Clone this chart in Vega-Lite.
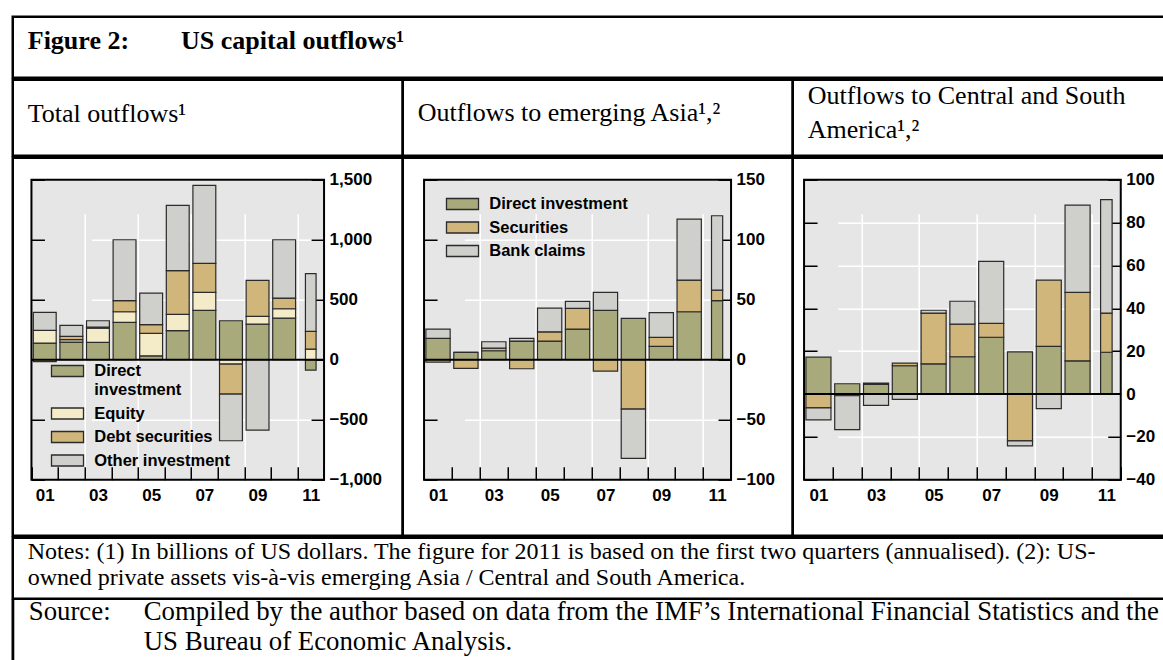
{
  "$schema": "https://vega.github.io/schema/vega-lite/v6.json",
  "padding": {"left": 10.75, "top": 14.75, "right": 0, "bottom": 0},
  "background": "white",
  "config": {
    "font": "Liberation Sans",
    "view": {"stroke": null},
    "title": {"font": "Liberation Serif", "fontWeight": "normal", "color": "black", "anchor": "start", "frame": "group", "baseline": "alphabetic", "fontSize": 26},
    "axis": {"labelFont": "Liberation Sans", "labelFontWeight": "bold", "labelFontSize": 17, "labelColor": "black", "title": null, "zindex": 0},
    "legend": {"title": null, "labelFont": "Liberation Sans", "labelFontWeight": "bold", "labelFontSize": 16.5, "labelColor": "black", "symbolType": "M-1,-1H4.82V1H-1Z", "symbolSize": 121, "symbolStrokeColor": "#2b2b2b", "symbolStrokeWidth": 1.3, "symbolOpacity": 1, "rowPadding": 6.5, "labelOffset": 29, "padding": 0, "orient": "none"}
  },
  "datasets": {
    "total": [
      {"year": "01", "series": "Direct investment", "value": 139}, {"year": "01", "series": "Equity", "value": 105}, {"year": "01", "series": "Debt securities", "value": -15}, {"year": "01", "series": "Other investment", "value": 150},
      {"year": "02", "series": "Direct investment", "value": 147}, {"year": "02", "series": "Equity", "value": 20}, {"year": "02", "series": "Debt securities", "value": 28}, {"year": "02", "series": "Other investment", "value": 92},
      {"year": "03", "series": "Direct investment", "value": 144}, {"year": "03", "series": "Equity", "value": 120}, {"year": "03", "series": "Debt securities", "value": 8}, {"year": "03", "series": "Other investment", "value": 53},
      {"year": "04", "series": "Direct investment", "value": 311}, {"year": "04", "series": "Equity", "value": 89}, {"year": "04", "series": "Debt securities", "value": 92}, {"year": "04", "series": "Other investment", "value": 508},
      {"year": "05", "series": "Direct investment", "value": 33}, {"year": "05", "series": "Equity", "value": 186}, {"year": "05", "series": "Debt securities", "value": 73}, {"year": "05", "series": "Other investment", "value": 264},
      {"year": "06", "series": "Direct investment", "value": 242}, {"year": "06", "series": "Equity", "value": 136}, {"year": "06", "series": "Debt securities", "value": 364}, {"year": "06", "series": "Other investment", "value": 544},
      {"year": "07", "series": "Direct investment", "value": 411}, {"year": "07", "series": "Equity", "value": 150}, {"year": "07", "series": "Debt securities", "value": 242}, {"year": "07", "series": "Other investment", "value": 650},
      {"year": "08", "series": "Direct investment", "value": 325}, {"year": "08", "series": "Equity", "value": -36}, {"year": "08", "series": "Debt securities", "value": -250}, {"year": "08", "series": "Other investment", "value": -389},
      {"year": "09", "series": "Direct investment", "value": 297}, {"year": "09", "series": "Equity", "value": 64}, {"year": "09", "series": "Debt securities", "value": 300}, {"year": "09", "series": "Other investment", "value": -586},
      {"year": "10", "series": "Direct investment", "value": 347}, {"year": "10", "series": "Equity", "value": 78}, {"year": "10", "series": "Debt securities", "value": 89}, {"year": "10", "series": "Other investment", "value": 486},
      {"year": "11", "series": "Direct investment", "value": -86}, {"year": "11", "series": "Equity", "value": 89}, {"year": "11", "series": "Debt securities", "value": 147}, {"year": "11", "series": "Other investment", "value": 481}
    ],
    "asia": [
      {"year": "01", "series": "Direct investment", "value": 17.8}, {"year": "01", "series": "Securities", "value": -2}, {"year": "01", "series": "Bank claims", "value": 7.8},
      {"year": "02", "series": "Direct investment", "value": 6.1}, {"year": "02", "series": "Securities", "value": -7.2}, {"year": "02", "series": "Bank claims", "value": 0},
      {"year": "03", "series": "Direct investment", "value": 7.5}, {"year": "03", "series": "Securities", "value": 2.2}, {"year": "03", "series": "Bank claims", "value": 5.3},
      {"year": "04", "series": "Direct investment", "value": 15.6}, {"year": "04", "series": "Securities", "value": -7.5}, {"year": "04", "series": "Bank claims", "value": 2.2},
      {"year": "05", "series": "Direct investment", "value": 15.6}, {"year": "05", "series": "Securities", "value": 7.7}, {"year": "05", "series": "Bank claims", "value": 19.7},
      {"year": "06", "series": "Direct investment", "value": 25.6}, {"year": "06", "series": "Securities", "value": 17.2}, {"year": "06", "series": "Bank claims", "value": 5.8},
      {"year": "07", "series": "Direct investment", "value": 41.1}, {"year": "07", "series": "Securities", "value": -9.4}, {"year": "07", "series": "Bank claims", "value": 15},
      {"year": "08", "series": "Direct investment", "value": 34.4}, {"year": "08", "series": "Securities", "value": -41.1}, {"year": "08", "series": "Bank claims", "value": -41.1},
      {"year": "09", "series": "Direct investment", "value": 11.1}, {"year": "09", "series": "Securities", "value": 7.5}, {"year": "09", "series": "Bank claims", "value": 20.6},
      {"year": "10", "series": "Direct investment", "value": 40}, {"year": "10", "series": "Securities", "value": 26.4}, {"year": "10", "series": "Bank claims", "value": 50.8},
      {"year": "11", "series": "Direct investment", "value": 49.2}, {"year": "11", "series": "Securities", "value": 8.8}, {"year": "11", "series": "Bank claims", "value": 62}
    ],
    "latam": [
      {"year": "01", "series": "Direct investment", "value": 17.2}, {"year": "01", "series": "Securities", "value": -6.5}, {"year": "01", "series": "Bank claims", "value": -5.6},
      {"year": "02", "series": "Direct investment", "value": 4.8}, {"year": "02", "series": "Securities", "value": -0.8}, {"year": "02", "series": "Bank claims", "value": -15.8},
      {"year": "03", "series": "Direct investment", "value": 4.5}, {"year": "03", "series": "Securities", "value": 0.6}, {"year": "03", "series": "Bank claims", "value": -5.3},
      {"year": "04", "series": "Direct investment", "value": 13.2}, {"year": "04", "series": "Securities", "value": 1.2}, {"year": "04", "series": "Bank claims", "value": -2.5},
      {"year": "05", "series": "Direct investment", "value": 14.1}, {"year": "05", "series": "Securities", "value": 23.7}, {"year": "05", "series": "Bank claims", "value": 1.3},
      {"year": "06", "series": "Direct investment", "value": 17.4}, {"year": "06", "series": "Securities", "value": 15.2}, {"year": "06", "series": "Bank claims", "value": 10.7},
      {"year": "07", "series": "Direct investment", "value": 26.5}, {"year": "07", "series": "Securities", "value": 6.5}, {"year": "07", "series": "Bank claims", "value": 28.9},
      {"year": "08", "series": "Direct investment", "value": 19.7}, {"year": "08", "series": "Securities", "value": -21.9}, {"year": "08", "series": "Bank claims", "value": -2.3},
      {"year": "09", "series": "Direct investment", "value": 22.2}, {"year": "09", "series": "Securities", "value": 31}, {"year": "09", "series": "Bank claims", "value": -6.8},
      {"year": "10", "series": "Direct investment", "value": 15.5}, {"year": "10", "series": "Securities", "value": 31.9}, {"year": "10", "series": "Bank claims", "value": 40.8},
      {"year": "11", "series": "Direct investment", "value": 19.5}, {"year": "11", "series": "Securities", "value": 18.3}, {"year": "11", "series": "Bank claims", "value": 52.9}
    ]
  },
  "vconcat": [
    {
      "width": 1153, "height": 61,
      "data": {"values": []}, "mark": "point",
      "view": {"stroke": "black", "strokeWidth": 2.5},
      "title": {"text": "Figure 2:\u00a0\u00a0\u00a0\u00a0\u00a0\u00a0\u00a0\u00a0US capital outflows\u00b9", "fontWeight": "bold", "fontSize": 26, "offset": -37, "dx": 15}
    },
    {
      "hconcat": [
        {"width": 390, "height": 76, "data": {"values": []}, "mark": "point", "view": {"stroke": "black", "strokeWidth": 2.5},
         "title": {"text": "Total outflows\u00b9", "offset": -47, "dx": 15}},
        {"width": 390, "height": 76, "data": {"values": []}, "mark": "point", "view": {"stroke": "black", "strokeWidth": 2.5},
         "title": {"text": "Outflows to emerging Asia\u00b9,\u00b2", "offset": -46, "dx": 15}},
        {"width": 373, "height": 76, "data": {"values": []}, "mark": "point", "view": {"stroke": "black", "strokeWidth": 2.5},
         "title": {"text": ["Outflows to Central and South", "America\u00b9,\u00b2"], "offset": -63, "dx": 15, "lineHeight": 34}}
      ],
      "spacing": 0, "bounds": "flush"
    },
    {
      "hconcat": [
        {
          "width": 390, "height": 378,
          "view": {"stroke": "black", "strokeWidth": 2.5, "fill": "white"},
          "data": {"name": "total"},
          "transform": [{"calculate": "indexof(['Direct investment','Equity','Debt securities','Other investment'], datum.series)", "as": "ord"}],
          "layer": [
            {
              "data": {"values": [{}]},
              "mark": {"type": "rect", "fill": "transparent", "stroke": "black", "strokeWidth": 2},
              "encoding": {
                "x": {"datum": "01", "type": "nominal", "bandPosition": 0, "scale": {"domain": ["01","02","03","04","05","06","07","08","09","10","11"], "paddingInner": 0, "paddingOuter": 0, "range": [18.7, 311.3]},
                  "axis": {"orient": "top", "values": ["06"], "grid": true, "gridColor": "#e6e6e6", "gridWidth": 292.6, "gridOpacity": 1, "ticks": false, "labels": false, "domain": false, "zindex": 0}},
                "x2": {"datum": "11", "bandPosition": 1},
                "y": {"datum": -1000, "type": "quantitative", "scale": {"domain": [-1000, 1500], "nice": false, "zero": false, "range": [322, 22]}, "axis": null},
                "y2": {"datum": 1500}
              }
            },
            {
              "transform": [{"filter": "datum.year != '11'"}],
              "mark": {"type": "bar", "width": {"band": 0.86}, "stroke": "#2b2b2b", "strokeWidth": 1.2},
              "encoding": {
                "x": {"field": "year", "type": "nominal",
                  "axis": {"orient": "bottom", "offset": -56, "zindex": 0, "domain": false, "labelAngle": 0, "labelExpr": "indexof(['01','03','05','07','09','11'], datum.value) >= 0 ? datum.value : ''", "labelPadding": 21, "labelFlush": false, "labelOverlap": false, "tickBand": "extent", "tickSize": -13, "tickColor": "black", "tickWidth": 1.5, "grid": true, "gridColor": "white", "gridWidth": 1.5, "gridOpacity": {"condition": {"test": "indexof(['02','04','06','08','10'], datum.value) >= 0", "value": 1}, "value": 0}}},
                "y": {"field": "value", "type": "quantitative", "stack": "zero",
                  "axis": {"orient": "right", "offset": -78.7, "zindex": 0, "values": [-1000, -500, 0, 500, 1000, 1500], "labelExpr": "format(datum.value, ',')", "domain": false, "labelPadding": 18, "labelFlush": false, "labelOverlap": false, "tickSize": -13, "tickColor": "black", "tickWidth": 1.5, "grid": true, "gridColor": "white", "gridWidth": 1.5}},
                "color": {"field": "series", "type": "nominal", "scale": {"domain": ["Direct investment", "Equity", "Debt securities", "Other investment"], "range": ["#a9aa7c", "#f4ebc9", "#d0b67b", "#cfcfcb"]},
                  "legend": {"legendX": 36, "legendY": 205, "labelExpr": "datum.label == 'Direct investment' ? ['Direct', 'investment'] : datum.label"}},
                "order": {"field": "ord", "type": "quantitative"}
              }
            },
            {
              "transform": [{"filter": "datum.year == '11'"}],
              "mark": {"type": "bar", "width": {"band": 0.4}, "stroke": "#2b2b2b", "strokeWidth": 1.2},
              "encoding": {
                "x": {"field": "year", "type": "nominal", "axis": null},
                "y": {"field": "value", "type": "quantitative", "stack": "zero", "axis": null},
                "color": {"field": "series", "type": "nominal"},
                "order": {"field": "ord", "type": "quantitative"}
              }
            },
            {
              "data": {"values": [{}]},
              "mark": {"type": "rule", "color": "black", "strokeWidth": 2},
              "encoding": {
                "x": {"datum": "01", "type": "nominal", "bandPosition": 0, "axis": null},
                "x2": {"datum": "11", "bandPosition": 1},
                "y": {"datum": 0, "type": "quantitative",
                  "axis": {"orient": "left", "offset": -18.7, "zindex": 0, "values": [-1000, -500, 0, 500, 1000, 1500], "labels": false, "domain": false, "grid": false, "tickSize": -13, "tickColor": "black", "tickWidth": 1.5}}
              }
            }
          ],
          "resolve": {"axis": {"x": "independent", "y": "independent"}}
        },
        {
          "width": 390, "height": 378,
          "view": {"stroke": "black", "strokeWidth": 2.5, "fill": "white"},
          "data": {"name": "asia"},
          "transform": [{"calculate": "indexof(['Direct investment','Securities','Bank claims'], datum.series)", "as": "ord"}],
          "layer": [
            {
              "data": {"values": [{}]},
              "mark": {"type": "rect", "fill": "transparent", "stroke": "black", "strokeWidth": 2},
              "encoding": {
                "x": {"datum": "01", "type": "nominal", "bandPosition": 0, "scale": {"domain": ["01","02","03","04","05","06","07","08","09","10","11"], "paddingInner": 0, "paddingOuter": 0, "range": [21.3, 328.3]},
                  "axis": {"orient": "top", "values": ["06"], "grid": true, "gridColor": "#e6e6e6", "gridWidth": 307, "gridOpacity": 1, "ticks": false, "labels": false, "domain": false, "zindex": 0}},
                "x2": {"datum": "11", "bandPosition": 1},
                "y": {"datum": -100, "type": "quantitative", "scale": {"domain": [-100, 150], "nice": false, "zero": false, "range": [322, 22]}, "axis": null},
                "y2": {"datum": 150}
              }
            },
            {
              "transform": [{"filter": "datum.year != '11'"}],
              "mark": {"type": "bar", "width": {"band": 0.87}, "stroke": "#2b2b2b", "strokeWidth": 1.2},
              "encoding": {
                "x": {"field": "year", "type": "nominal",
                  "axis": {"orient": "bottom", "offset": -56, "zindex": 0, "domain": false, "labelAngle": 0, "labelExpr": "indexof(['01','03','05','07','09','11'], datum.value) >= 0 ? datum.value : ''", "labelPadding": 21, "labelFlush": false, "labelOverlap": false, "tickBand": "extent", "tickSize": -13, "tickColor": "black", "tickWidth": 1.5, "grid": true, "gridColor": "white", "gridWidth": 1.5, "gridOpacity": {"condition": {"test": "indexof(['02','04','06','08','10'], datum.value) >= 0", "value": 1}, "value": 0}}},
                "y": {"field": "value", "type": "quantitative", "stack": "zero",
                  "axis": {"orient": "right", "offset": -61.7, "zindex": 0, "values": [-100, -50, 0, 50, 100, 150], "labelExpr": "format(datum.value, ',')", "domain": false, "labelPadding": 18, "labelFlush": false, "labelOverlap": false, "tickSize": -13, "tickColor": "black", "tickWidth": 1.5, "grid": true, "gridColor": "white", "gridWidth": 1.5}},
                "color": {"field": "series", "type": "nominal", "scale": {"domain": ["Direct investment", "Securities", "Bank claims"], "range": ["#a9aa7c", "#d0b67b", "#cfcfcb"]},
                  "legend": {"legendX": 41, "legendY": 38}},
                "order": {"field": "ord", "type": "quantitative"}
              }
            },
            {
              "transform": [{"filter": "datum.year == '11'"}],
              "mark": {"type": "bar", "width": {"band": 0.4}, "stroke": "#2b2b2b", "strokeWidth": 1.2},
              "encoding": {
                "x": {"field": "year", "type": "nominal", "axis": null},
                "y": {"field": "value", "type": "quantitative", "stack": "zero", "axis": null},
                "color": {"field": "series", "type": "nominal"},
                "order": {"field": "ord", "type": "quantitative"}
              }
            },
            {
              "data": {"values": [{}]},
              "mark": {"type": "rule", "color": "black", "strokeWidth": 2},
              "encoding": {
                "x": {"datum": "01", "type": "nominal", "bandPosition": 0, "axis": null},
                "x2": {"datum": "11", "bandPosition": 1},
                "y": {"datum": 0, "type": "quantitative",
                  "axis": {"orient": "left", "offset": -21.3, "zindex": 0, "values": [-100, -50, 0, 50, 100, 150], "labels": false, "domain": false, "grid": false, "tickSize": -13, "tickColor": "black", "tickWidth": 1.5}}
              }
            }
          ],
          "resolve": {"axis": {"x": "independent", "y": "independent"}}
        },
        {
          "width": 373, "height": 378,
          "view": {"stroke": "black", "strokeWidth": 2.5, "fill": "white"},
          "data": {"name": "latam"},
          "transform": [{"calculate": "indexof(['Direct investment','Securities','Bank claims'], datum.series)", "as": "ord"}],
          "layer": [
            {
              "data": {"values": [{}]},
              "mark": {"type": "rect", "fill": "transparent", "stroke": "black", "strokeWidth": 2},
              "encoding": {
                "x": {"datum": "01", "type": "nominal", "bandPosition": 0, "scale": {"domain": ["01","02","03","04","05","06","07","08","09","10","11"], "paddingInner": 0, "paddingOuter": 0, "range": [11.3, 328]},
                  "axis": {"orient": "top", "values": ["06"], "grid": true, "gridColor": "#e6e6e6", "gridWidth": 316.7, "gridOpacity": 1, "ticks": false, "labels": false, "domain": false, "zindex": 0}},
                "x2": {"datum": "11", "bandPosition": 1},
                "y": {"datum": -40, "type": "quantitative", "scale": {"domain": [-40, 100], "nice": false, "zero": false, "range": [322, 22]}, "axis": null},
                "y2": {"datum": 100}
              }
            },
            {
              "transform": [{"filter": "datum.year != '11'"}],
              "mark": {"type": "bar", "width": {"band": 0.87}, "stroke": "#2b2b2b", "strokeWidth": 1.2},
              "encoding": {
                "x": {"field": "year", "type": "nominal",
                  "axis": {"orient": "bottom", "offset": -56, "zindex": 0, "domain": false, "labelAngle": 0, "labelExpr": "indexof(['01','03','05','07','09','11'], datum.value) >= 0 ? datum.value : ''", "labelPadding": 21, "labelFlush": false, "labelOverlap": false, "tickBand": "extent", "tickSize": -13, "tickColor": "black", "tickWidth": 1.5, "grid": true, "gridColor": "white", "gridWidth": 1.5, "gridOpacity": {"condition": {"test": "indexof(['02','04','06','08','10'], datum.value) >= 0", "value": 1}, "value": 0}}},
                "y": {"field": "value", "type": "quantitative", "stack": "zero",
                  "axis": {"orient": "right", "offset": -45, "zindex": 0, "values": [-40, -20, 0, 20, 40, 60, 80, 100], "labelExpr": "format(datum.value, ',')", "domain": false, "labelPadding": 18, "labelFlush": false, "labelOverlap": false, "tickSize": -13, "tickColor": "black", "tickWidth": 1.5, "grid": true, "gridColor": "white", "gridWidth": 1.5}},
                "color": {"field": "series", "type": "nominal", "scale": {"domain": ["Direct investment", "Securities", "Bank claims"], "range": ["#a9aa7c", "#d0b67b", "#cfcfcb"]}, "legend": null},
                "order": {"field": "ord", "type": "quantitative"}
              }
            },
            {
              "transform": [{"filter": "datum.year == '11'"}],
              "mark": {"type": "bar", "width": {"band": 0.4}, "stroke": "#2b2b2b", "strokeWidth": 1.2},
              "encoding": {
                "x": {"field": "year", "type": "nominal", "axis": null},
                "y": {"field": "value", "type": "quantitative", "stack": "zero", "axis": null},
                "color": {"field": "series", "type": "nominal", "legend": null},
                "order": {"field": "ord", "type": "quantitative"}
              }
            },
            {
              "data": {"values": [{}]},
              "mark": {"type": "rule", "color": "black", "strokeWidth": 2},
              "encoding": {
                "x": {"datum": "01", "type": "nominal", "bandPosition": 0, "axis": null},
                "x2": {"datum": "11", "bandPosition": 1},
                "y": {"datum": 0, "type": "quantitative",
                  "axis": {"orient": "left", "offset": -11.3, "zindex": 0, "values": [-40, -20, 0, 20, 40, 60, 80, 100], "labels": false, "domain": false, "grid": false, "tickSize": -13, "tickColor": "black", "tickWidth": 1.5}}
              }
            }
          ],
          "resolve": {"axis": {"x": "independent", "y": "independent"}}
        }
      ],
      "spacing": 0, "bounds": "flush",
      "resolve": {"scale": {"color": "independent"}, "legend": {"color": "independent"}}
    },
    {
      "width": 1153, "height": 61,
      "data": {"values": []}, "mark": "point",
      "view": {"stroke": "black", "strokeWidth": 2.5},
      "title": {"text": ["Notes: (1) In billions of US dollars. The figure for 2011 is based on the first two quarters (annualised). (2): US-", "owned private assets vis-\u00e0-vis emerging Asia / Central and South America."], "fontSize": 24, "lineHeight": 26.5, "offset": -52.5, "dx": 15}
    },
    {
      "hconcat": [
        {"width": 0.3, "height": 80, "data": {"values": []}, "mark": "point", "view": {"stroke": "black", "strokeWidth": 2.5}},
        {"width": 129.7, "height": 80, "data": {"values": []}, "mark": "point",
         "title": {"text": "Source:", "fontSize": 26.8, "offset": -25, "dx": 15}},
        {"width": 1023, "height": 80, "data": {"values": []}, "mark": "point",
         "title": {"text": ["Compiled by the author based on data from the IMF\u2019s International Financial Statistics and the", "US Bureau of Economic Analysis."], "fontSize": 26.8, "lineHeight": 30, "offset": -55, "dx": 0}}
      ],
      "spacing": 0, "bounds": "flush"
    }
  ],
  "spacing": -2.5
}
